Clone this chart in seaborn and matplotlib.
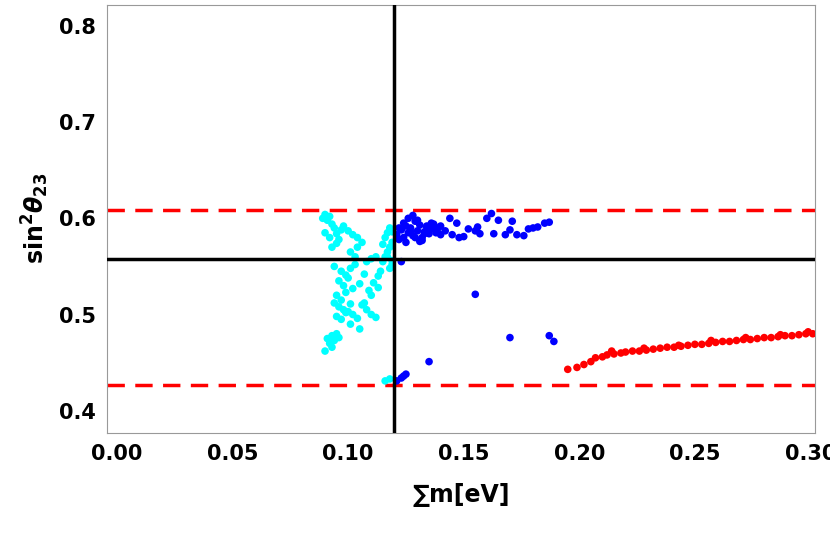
import matplotlib
matplotlib.use("Agg")
import matplotlib.pyplot as plt
import seaborn as sns
import pandas as pd

# cyan cluster (below 0.12 eV)
cyan_x = [0.089, 0.090, 0.091, 0.092, 0.093, 0.094, 0.090, 0.092, 0.095, 0.097,
          0.093, 0.095, 0.096, 0.098, 0.100, 0.102, 0.104, 0.094, 0.097, 0.099,
          0.101, 0.103, 0.096, 0.098, 0.100, 0.102, 0.105, 0.107, 0.095, 0.097,
          0.099, 0.101, 0.094, 0.096, 0.098, 0.100, 0.102, 0.095, 0.097, 0.099,
          0.101, 0.104, 0.106, 0.108, 0.110, 0.112, 0.113, 0.114, 0.115, 0.116,
          0.117, 0.118, 0.119, 0.116, 0.117, 0.118, 0.119, 0.115, 0.117, 0.119,
          0.108, 0.110, 0.112, 0.109, 0.111, 0.113, 0.106, 0.104, 0.118, 0.119,
          0.091, 0.093, 0.095, 0.092, 0.094, 0.096, 0.093, 0.090, 0.116, 0.118,
          0.110, 0.107, 0.105, 0.103, 0.101]
cyan_y = [0.600, 0.604, 0.598, 0.602, 0.594, 0.590, 0.585, 0.580, 0.584, 0.588,
          0.570, 0.574, 0.578, 0.592, 0.587, 0.583, 0.580, 0.550, 0.545, 0.541,
          0.548, 0.552, 0.535, 0.530, 0.538, 0.527, 0.532, 0.542, 0.520, 0.515,
          0.523, 0.511, 0.512, 0.508, 0.505, 0.503, 0.500, 0.498, 0.495, 0.502,
          0.490, 0.496, 0.510, 0.505, 0.500, 0.497, 0.540, 0.545, 0.555, 0.560,
          0.565, 0.570, 0.575, 0.580, 0.585, 0.590, 0.586, 0.573, 0.560, 0.552,
          0.555, 0.558, 0.560, 0.525, 0.533, 0.528, 0.575, 0.570, 0.548, 0.556,
          0.475, 0.478, 0.480, 0.470, 0.473, 0.476, 0.466, 0.462, 0.431, 0.433,
          0.520, 0.512, 0.485, 0.560, 0.565]

# blue cluster (above 0.12 eV)
blue_x = [0.121, 0.122, 0.123, 0.124, 0.125, 0.126, 0.127, 0.128, 0.129, 0.130,
          0.131, 0.132, 0.133, 0.134, 0.135, 0.136, 0.137, 0.138, 0.139, 0.140,
          0.122, 0.124, 0.126, 0.128, 0.130, 0.132, 0.134, 0.136, 0.138, 0.140,
          0.125, 0.127, 0.129, 0.131, 0.133, 0.135, 0.142, 0.145, 0.147, 0.150,
          0.152, 0.155, 0.157, 0.160, 0.162, 0.165, 0.168, 0.170, 0.173, 0.176,
          0.178, 0.180, 0.182, 0.185, 0.187, 0.148, 0.156, 0.144, 0.171, 0.163,
          0.123, 0.155, 0.170, 0.187, 0.189, 0.135, 0.121, 0.123, 0.124, 0.125]
blue_y = [0.583, 0.578, 0.588, 0.580, 0.592, 0.585, 0.590, 0.582, 0.597, 0.587,
          0.593, 0.580, 0.586, 0.591, 0.584, 0.589, 0.594, 0.585, 0.590, 0.583,
          0.590, 0.595, 0.600, 0.603, 0.598, 0.577, 0.592, 0.595, 0.588, 0.592,
          0.575, 0.586, 0.580, 0.576, 0.584, 0.590, 0.587, 0.583, 0.595, 0.581,
          0.589, 0.587, 0.584, 0.600, 0.605, 0.598, 0.583, 0.588, 0.583, 0.582,
          0.589, 0.590, 0.591, 0.595, 0.596, 0.580, 0.591, 0.600, 0.597, 0.584,
          0.555, 0.521, 0.476, 0.478, 0.472, 0.451, 0.431, 0.434, 0.436, 0.438]

# red branch
red_x = [0.195, 0.199, 0.202, 0.205, 0.207, 0.210, 0.212, 0.215, 0.218, 0.220,
         0.223, 0.226, 0.229, 0.232, 0.235, 0.238, 0.241, 0.244, 0.247, 0.250,
         0.253, 0.256, 0.259, 0.262, 0.265, 0.268, 0.271, 0.274, 0.277, 0.280,
         0.283, 0.286, 0.289, 0.292, 0.295, 0.298, 0.301, 0.304, 0.214, 0.228,
         0.243, 0.257, 0.272, 0.287, 0.299]
red_y = [0.443, 0.445, 0.448, 0.451, 0.455, 0.456, 0.458, 0.459, 0.460, 0.461,
         0.462, 0.462, 0.463, 0.464, 0.465, 0.466, 0.466, 0.467, 0.468, 0.469,
         0.469, 0.470, 0.471, 0.472, 0.472, 0.473, 0.474, 0.474, 0.475, 0.476,
         0.476, 0.477, 0.478, 0.478, 0.479, 0.480, 0.480, 0.481, 0.462, 0.465,
         0.468, 0.473, 0.476, 0.479, 0.482]

best_x, best_y = 0.12, 0.558
band = [0.427, 0.609]

df = pd.concat([
    pd.DataFrame({"x": cyan_x, "y": cyan_y, "set": "cyan"}),
    pd.DataFrame({"x": blue_x, "y": blue_y, "set": "blue"}),
    pd.DataFrame({"x": red_x, "y": red_y, "set": "red"}),
])

sns.set_style("white")
plt.rcParams["font.family"] = ["DejaVu Sans"]
plt.rcParams["font.weight"] = "bold"
plt.rcParams["text.color"] = "black"
plt.rcParams["axes.labelcolor"] = "black"
plt.rcParams["xtick.labelcolor"] = "black"
plt.rcParams["ytick.labelcolor"] = "black"
plt.rcParams["mathtext.fontset"] = "custom"
plt.rcParams["mathtext.bf"] = "DejaVu Sans:bold"
plt.rcParams["mathtext.it"] = "DejaVu Sans:bold:italic"
plt.rcParams["mathtext.rm"] = "DejaVu Sans:bold"

fig = plt.figure(figsize=(8.3, 5.35), dpi=100)
ax = fig.add_axes([0.129, 0.191, 0.853, 0.800])

sns.scatterplot(data=df, x="x", y="y", hue="set",
                palette={"cyan": "#00ffff", "blue": "#0000ff", "red": "#ff0000"},
                s=30, linewidth=0, legend=False, ax=ax, zorder=3)

for b in band:
    ax.axhline(b, color="red", lw=2.5, ls=(0, (5, 3)), zorder=2)
ax.axhline(best_y, color="black", lw=2.5, zorder=4)
ax.axvline(best_x, color="black", lw=2.5, zorder=4)

ax.set_xlim(-0.0043, 0.302)
ax.set_ylim(0.377, 0.822)
ax.set_xticks([0.0, 0.05, 0.10, 0.15, 0.20, 0.25, 0.30])
ax.set_xticklabels(["0.00", "0.05", "0.10", "0.15", "0.20", "0.25", "0.30"])
ax.set_yticks([0.4, 0.5, 0.6, 0.7, 0.8])
ax.tick_params(labelsize=15, direction="in", length=4, color="#888888", pad=8)
for sp in ax.spines.values():
    sp.set_color("#999999")

ax.set_xlabel("∑m[eV]", fontsize=17, fontweight="bold", labelpad=14)
ax.set_ylabel(r"$\mathrm{sin}^2\mathit{\theta}_{23}$", fontsize=17, labelpad=6)

fig.savefig("out.png", dpi=100)
